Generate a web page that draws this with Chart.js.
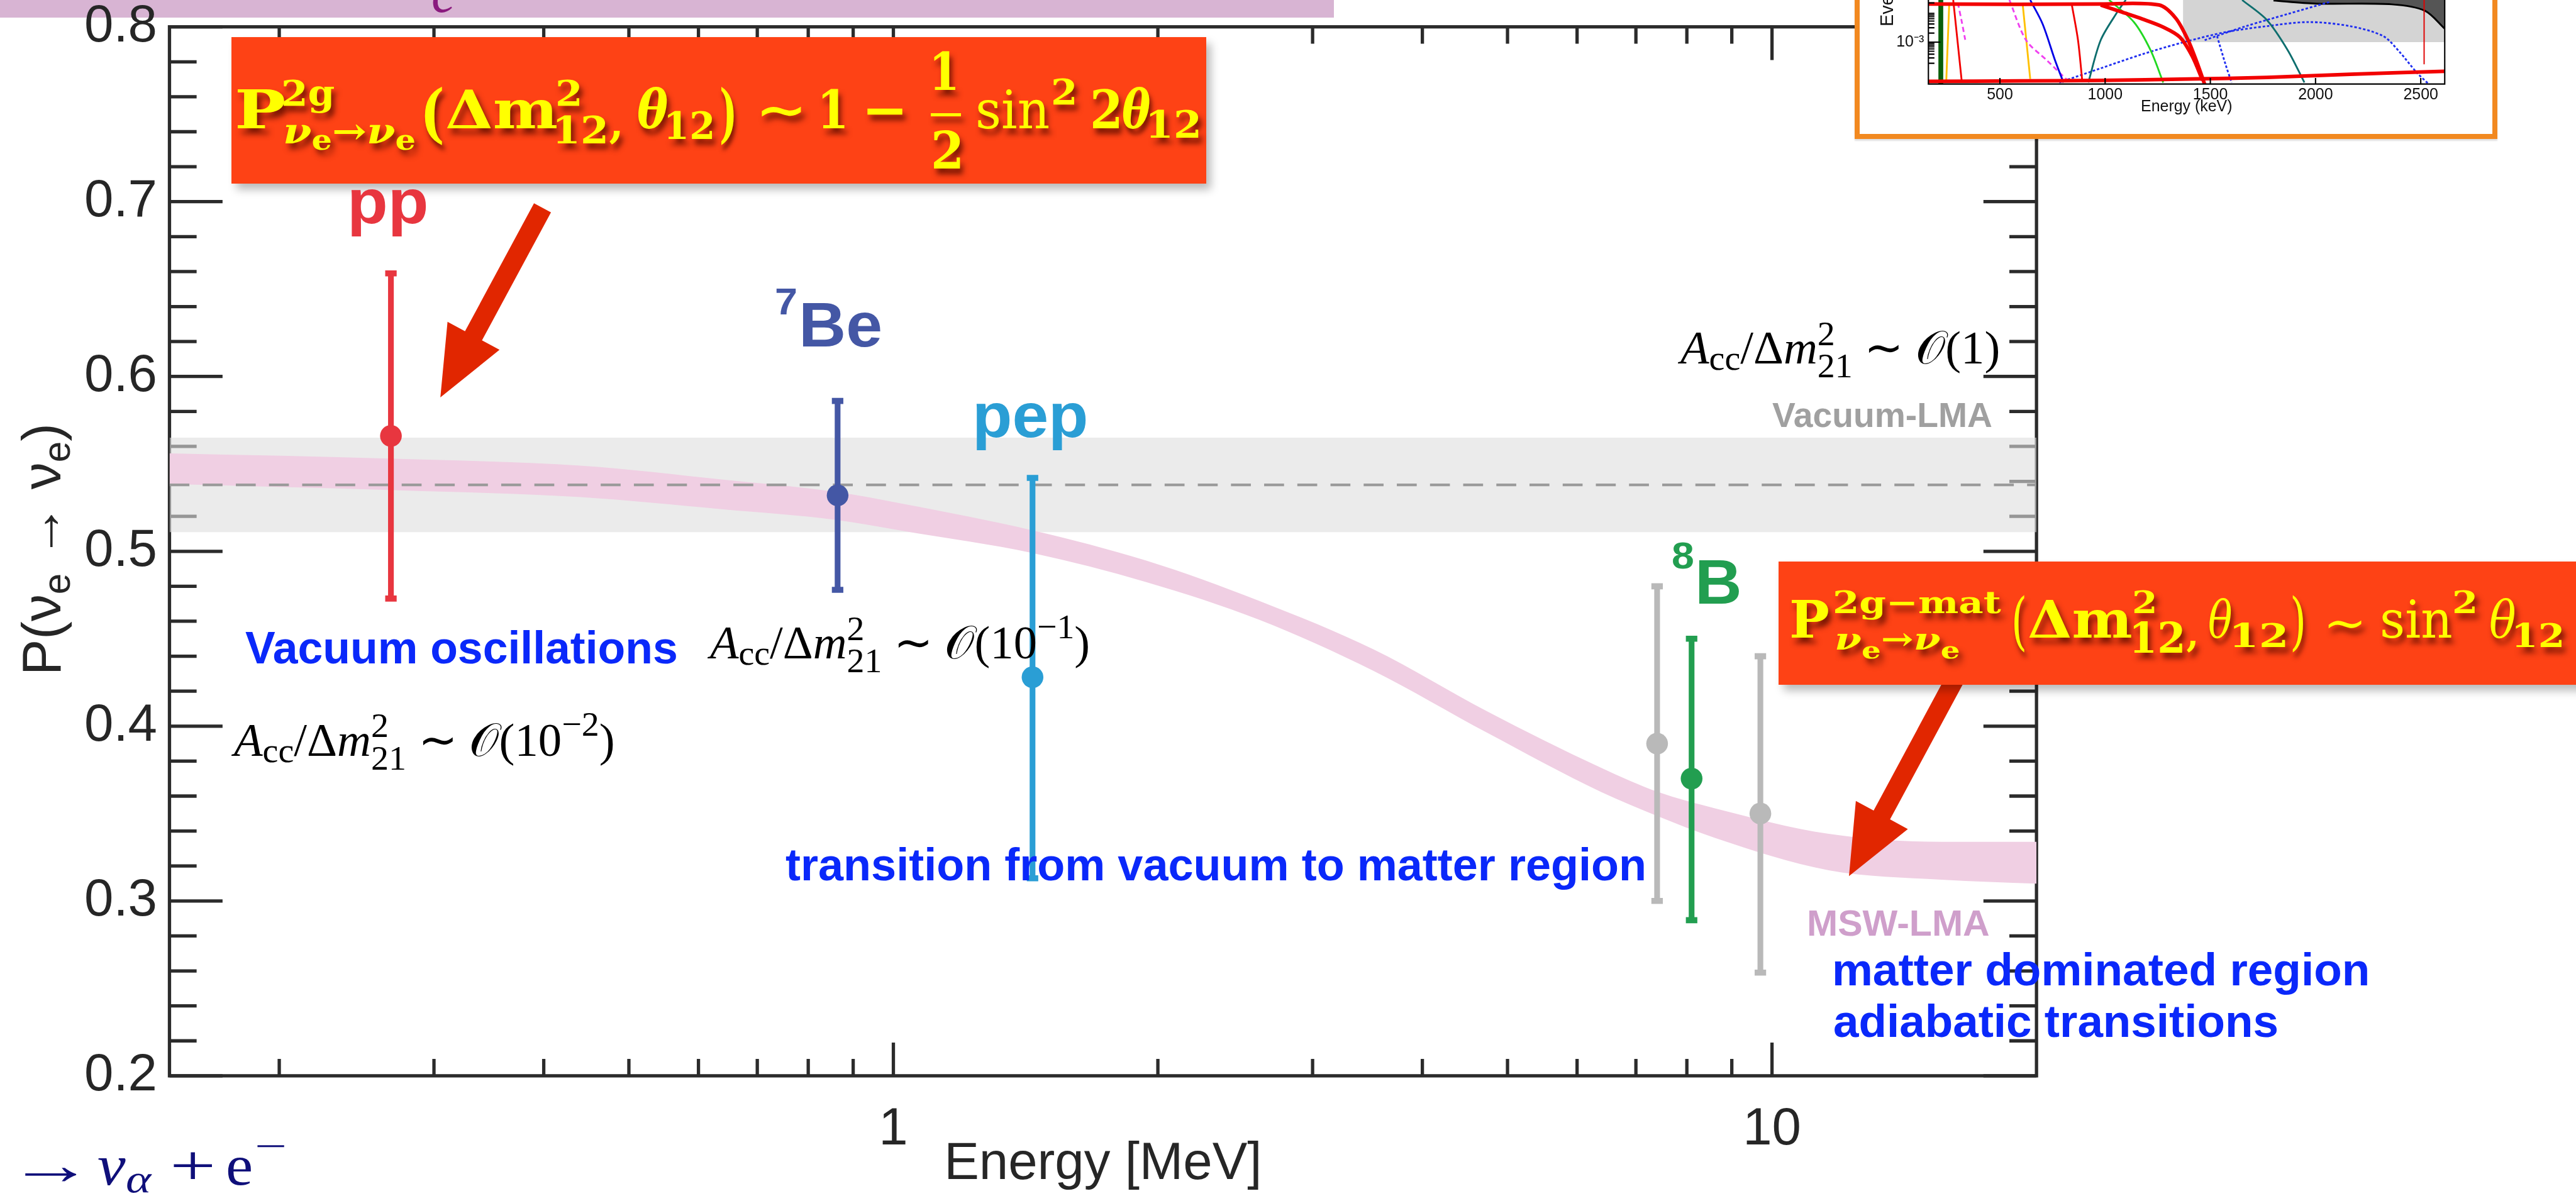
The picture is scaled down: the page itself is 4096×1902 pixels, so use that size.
<!DOCTYPE html>
<html><head><meta charset="utf-8">
<script src="https://cdn.jsdelivr.net/npm/chart.js@4.4.1/dist/chart.umd.min.js"></script>
<style>
html,body{margin:0;padding:0;background:#fff;overflow:hidden;}
#wrap{position:relative;width:4096px;height:1902px;overflow:hidden;background:#fff;}
canvas{position:absolute;left:0;top:0;}
.ov{position:absolute;white-space:nowrap;line-height:1;transform-origin:0 0;margin:0;padding:0;}
.bl{display:inline-block;width:0;height:0;}
.box{position:absolute;box-sizing:border-box;}
</style></head>
<body><div id="wrap">
<div id="pinkbar" class="box"></div>
<canvas id="main" width="4096" height="1902"></canvas>
<svg id="arrows" width="4096" height="1902" style="position:absolute;left:0;top:0"></svg>
<div id="box1" class="box"></div>
<div id="box2" class="box"></div>
<div id="insetBox" class="box"></div>
<canvas id="inset"></canvas>
</div>
<script>
const S = 0.959;
const SANS = "'Liberation Sans', Arial, Helvetica, sans-serif";
const SERIF = "'Liberation Serif', 'Times New Roman', serif";
const MATHB = "'DejaVu Serif', serif";

// ================= DATA =================
const sourceNames  = ['pp', '7Be', 'pep', '8B', '8B other (low E)', '8B other (high E)'];
const sourceEnergy = [0.268, 0.864, 1.44, 8.10, 7.40, 9.70];      // MeV
const sourceProb   = [0.566, 0.532, 0.428, 0.370, 0.390, 0.350];
const sourceLow    = [0.473, 0.478, 0.313, 0.289, 0.300, 0.259];
const sourceHigh   = [0.659, 0.586, 0.542, 0.450, 0.480, 0.440];

const mswEnergy = [0.15, 0.27, 0.44, 0.64, 0.86, 1.03, 1.44, 1.94, 2.61, 3.52, 4.74, 6.39, 7.42, 8.61, 11.6, 15.6, 20];
const mswUpper  = [0.556, 0.553, 0.549, 0.541, 0.534, 0.527, 0.512, 0.4947, 0.4716, 0.4439, 0.4085, 0.3762, 0.3623, 0.3530, 0.3384, 0.3338, 0.3338];
const mswLower  = [0.5385, 0.535, 0.531, 0.524, 0.518, 0.5115, 0.499, 0.4824, 0.4608, 0.4316, 0.3962, 0.3623, 0.3484, 0.3361, 0.3176, 0.3122, 0.3099];

const vacEnergy  = [0.15, 20];
const vacUpper   = [0.565, 0.565];
const vacLower   = [0.511, 0.511];
const vacCentral = [0.538, 0.538];

const xMajorTicks = [1, 10];
const xTickLabels = ['1', '10'];
const xMinorTicks = [0.2, 0.3, 0.4, 0.5, 0.6, 0.7, 0.8, 0.9, 2, 3, 4, 5, 6, 7, 8, 9];
const yMajorTicks = [0.2, 0.3, 0.4, 0.5, 0.6, 0.7, 0.8];
const yTickLabels = ['0.2', '0.3', '0.4', '0.5', '0.6', '0.7', '0.8'];
const yMinorTicks = [0.22, 0.24, 0.26, 0.28, 0.32, 0.34, 0.36, 0.38, 0.42, 0.44, 0.46, 0.48,
                     0.52, 0.54, 0.56, 0.58, 0.62, 0.64, 0.66, 0.68, 0.72, 0.74, 0.76, 0.78];

// inset spectrum (keV, events)
const insetRedTopKeV = [160, 584, 979, 1256, 1335, 1394, 1443, 1473];
const insetRedTop    = [0.0185, 0.0179, 0.0185, 0.0171, 0.0063, 0.00117, 0.00016, 0.00004];
const insetRedDiagKeV = [979, 1078, 1177, 1276, 1355, 1414, 1463];
const insetRedDiag    = [0.0171, 0.0100, 0.00585, 0.00316, 0.00147, 0.00034, 0.000054];
const insetRedLeftKeV = [278, 298, 318];
const insetRedLeft    = [0.025, 0.00117, 0.000054];
const insetRedMidKeV  = [841, 871, 891];
const insetRedMid     = [0.0185, 0.00117, 0.000054];
const insetRedBaseKeV = [160, 600, 979, 1400, 1769, 2164, 2614];
const insetRedBase    = [0.000050, 0.000052, 0.000054, 0.000060, 0.000068, 0.000086, 0.000108];
const insetRedMarkKeV = [2516, 2516];
const insetRedMark    = [0.025, 0.000185];
const insetBlueKeV = [644, 703, 762, 802];
const insetBlue    = [0.025, 0.004, 0.00025, 0.000046];
const insetBlueDotKeV = [782, 979, 1177, 1374, 1572, 1769, 1967, 2164, 2322, 2401, 2480, 2539];
const insetBlueDot    = [0.000046, 0.000136, 0.0004, 0.001, 0.00215, 0.0034, 0.00464, 0.0034, 0.00158, 0.00046, 0.0001, 0.00004];
const insetBlueDot2KeV = [1473, 1670, 1868, 2066];
const insetBlueDot2    = [0.00117, 0.0034, 0.0086, 0.0215];
const insetBlueDot3KeV = [1532, 1572, 1601];
const insetBlueDot3    = [0.00158, 0.000185, 0.000046];
const insetMagentaKeV  = [545, 624, 723, 821];
const insetMagenta     = [0.025, 0.00117, 0.00025, 0.000054];
const insetMagenta2KeV = [300, 318, 335];
const insetMagenta2    = [0.02, 0.005, 0.0012];
const insetGreenKeV = [1019, 1137, 1216, 1276];
const insetGreen    = [0.025, 0.0046, 0.00054, 0.000046];
const insetTealUpKeV = [920, 979, 1058, 1098];
const insetTealUp    = [0.000046, 0.00117, 0.01, 0.025];
const insetTealDownKeV = [1651, 1769, 1868, 1947];
const insetTealDown    = [0.025, 0.0054, 0.00054, 0.000046];
const insetYellowAKeV = [259, 245];
const insetYellowA    = [0.0185, 0.000054];
const insetYellowBKeV = [608, 644];
const insetYellowB    = [0.0185, 0.00006];
const insetDarkGreenKeV = [219, 219];
const insetDarkGreen    = [0.025, 0.000041];
const insetHatchKeV    = [1370, 2614];
const insetHatchTop    = [0.025, 0.025];
const insetHatchBottom = [0.001, 0.001];
const insetBlackKeV    = [1800, 2000, 2362, 2520, 2614];
const insetBlackTop    = [0.025, 0.025, 0.025, 0.025, 0.025];
const insetBlackBottom = [0.024, 0.019, 0.018, 0.011, 0.0028];
const insetXTicks  = [500, 1000, 1500, 2000, 2500];
const insetXLabels = ['500', '1000', '1500', '2000', '2500'];
const insetYMajor  = [0.001];
const insetYLabels = ['10\u207B\u00B3'];
const insetYMinor  = [0.0002,0.0003,0.0004,0.0005,0.0006,0.0007,0.0008,0.0009,0.002,0.003,0.004,0.005,0.006,0.007,0.008,0.009,0.02];

// ================= STYLE =================
const sourceColor = ['#E8363F', '#4457A5', '#2A9ED5', '#229E50', '#B9B9B9', '#B9B9B9'];
const PLOT = {left: 281, right: 3376.6, top: 44.5, bottom: 1784};   // reference px
const W = 4096, H = 1902;

Chart.defaults.font.family = SANS;
const mk = (xs, ys) => xs.map((x, i) => ({x: x, y: ys[i]}));

const frameTicks = {
  id: 'frameTicks',
  beforeDatasetsDraw(chart) {
    const {ctx, chartArea: a, scales: {x, y}} = chart;
    ctx.save();
    ctx.strokeStyle = '#2B2B2B';
    ctx.lineWidth = 5.5 * S;
    ctx.beginPath();
    const yt = (v, len) => { const p = y.getPixelForValue(v); ctx.moveTo(a.left, p); ctx.lineTo(a.left + len, p); ctx.moveTo(a.right, p); ctx.lineTo(a.right - len, p); };
    const xt = (v, len) => { const p = x.getPixelForValue(v); ctx.moveTo(p, a.bottom); ctx.lineTo(p, a.bottom - len); ctx.moveTo(p, a.top); ctx.lineTo(p, a.top + len); };
    yMajorTicks.forEach(v => yt(v, 88 * S));
    yMinorTicks.forEach(v => yt(v, 45 * S));
    xMajorTicks.forEach(v => xt(v, 55 * S));
    xMinorTicks.forEach(v => xt(v, 28 * S));
    ctx.stroke();
    ctx.strokeRect(a.left, a.top, a.right - a.left, a.bottom - a.top);
    ctx.restore();
  }
};

const ds = [];
sourceNames.forEach((n, i) => {
  ds.push({
    label: n, order: i + 1,
    data: [{x: sourceEnergy[i], y: sourceLow[i]}, {x: sourceEnergy[i], y: sourceProb[i]}, {x: sourceEnergy[i], y: sourceHigh[i]}],
    borderColor: sourceColor[i], backgroundColor: sourceColor[i], borderWidth: 9.5 * S,
    pointStyle: ['line', 'circle', 'line'], pointRadius: [9.5 * S, 18 * S, 9.5 * S],
    pointBorderWidth: [10 * S, 0, 10 * S], pointBackgroundColor: sourceColor[i], pointBorderColor: sourceColor[i],
    fill: false, tension: 0
  });
});
ds.push({label: 'Vacuum-LMA central', order: 30, data: mk(vacEnergy, vacCentral), borderColor: '#9B9B9B',
  borderWidth: 4.5 * S, borderDash: [33 * S, 22 * S], pointRadius: 0, fill: false});
ds.push({label: 'MSW-LMA upper', order: 40, data: mk(mswEnergy, mswUpper), borderColor: 'rgba(0,0,0,0)',
  borderWidth: 0, pointRadius: 0, fill: '+1', backgroundColor: '#F0CFE3', cubicInterpolationMode: 'monotone'});
ds.push({label: 'MSW-LMA lower', order: 41, data: mk(mswEnergy, mswLower), borderColor: 'rgba(0,0,0,0)',
  borderWidth: 0, pointRadius: 0, fill: false, cubicInterpolationMode: 'monotone'});
ds.push({label: 'Vacuum-LMA upper', order: 50, data: mk(vacEnergy, vacUpper), borderColor: 'rgba(0,0,0,0)',
  borderWidth: 0, pointRadius: 0, fill: '+1', backgroundColor: 'rgba(222,222,222,0.6)'});
ds.push({label: 'Vacuum-LMA lower', order: 51, data: mk(vacEnergy, vacLower), borderColor: 'rgba(0,0,0,0)',
  borderWidth: 0, pointRadius: 0, fill: false});

const tickFont = {size: 87 * S, lineHeight: 1.2};
new Chart(document.getElementById('main'), {
  type: 'line',
  data: {datasets: ds},
  options: {
    responsive: false, animation: false, devicePixelRatio: 1, events: [],
    layout: {padding: {left: 0, top: PLOT.top * S, right: W - PLOT.right * S, bottom: 0}},
    plugins: {legend: {display: false}, tooltip: {enabled: false}},
    scales: {
      x: {
        type: 'logarithmic', min: 0.15, max: 20, position: 'bottom',
        grid: {display: false, drawTicks: false}, border: {display: false},
        afterBuildTicks: s => { s.ticks = xMajorTicks.map(v => ({value: v})); },
        afterFit: s => { s.height = H - PLOT.bottom * S; s.paddingLeft = 0; s.paddingRight = 0; },
        ticks: {callback: (v, i) => xTickLabels[i], font: tickFont, color: '#262626', padding: 36, maxRotation: 0, autoSkip: false},
        title: {display: true, text: 'Energy [MeV]', font: tickFont, color: '#262626', padding: {top: 0, bottom: 0}}
      },
      y: {
        type: 'linear', min: 0.2, max: 0.8, position: 'left',
        grid: {display: false, drawTicks: false}, border: {display: false},
        afterBuildTicks: s => { s.ticks = yMajorTicks.map(v => ({value: v})); },
        afterFit: s => { s.width = PLOT.left * S; s.paddingTop = 0; s.paddingBottom = 0; },
        ticks: {callback: (v, i) => yTickLabels[i], font: {size: 87 * S, lineHeight: 0.8}, color: '#262626', padding: 19.5, autoSkip: false}
      }
    }
  },
  plugins: [frameTicks]
});

// ================= boxes & arrows =================
const wrap = document.getElementById('wrap');
function boxStyle(id, x, y, w, h, css) {
  const el = document.getElementById(id);
  el.style.left = (x * S) + 'px'; el.style.top = (y * S) + 'px';
  el.style.width = (w * S) + 'px'; el.style.height = (h * S) + 'px';
  Object.assign(el.style, css);
}
boxStyle('pinkbar', 0, 0, 2212, 29.3, {background: '#D8B4D3'});
boxStyle('box1', 384, 62, 1616, 242, {background: '#FE4215', boxShadow: `${8 * S}px ${10 * S}px ${14 * S}px rgba(0,0,0,0.28)`});
boxStyle('box2', 2949, 931, 1400, 205, {background: '#FE4215', boxShadow: `${8 * S}px ${10 * S}px ${14 * S}px rgba(0,0,0,0.28)`});
boxStyle('insetBox', 3075.5, -30, 1065.5, 260, {background: '#fff', border: `${9 * S}px solid #F28920`, boxShadow: `0 ${3 * S}px ${2 * S}px rgba(0,0,0,0.12)`});

function arrowPoints(t, p, sw, hl, hw) {
  const dx = p[0] - t[0], dy = p[1] - t[1], L = Math.hypot(dx, dy), ux = dx / L, uy = dy / L, nx = -uy, ny = ux;
  const bx = p[0] - ux * hl, by = p[1] - uy * hl;
  const pts = [[t[0] + nx * sw / 2, t[1] + ny * sw / 2], [bx + nx * sw / 2, by + ny * sw / 2], [bx + nx * hw, by + ny * hw], p,
               [bx - nx * hw, by - ny * hw], [bx - nx * sw / 2, by - ny * sw / 2], [t[0] - nx * sw / 2, t[1] - ny * sw / 2]];
  return pts.map(q => (q[0] * S).toFixed(1) + ',' + (q[1] * S).toFixed(1)).join(' ');
}
document.getElementById('arrows').innerHTML =
  `<polygon fill="#E12600" points="${arrowPoints([899.5, 344.6], [730.1, 659], 32, 116, 49)}"/>` +
  `<polygon fill="#E12600" points="${arrowPoints([3242, 1125], [3065.7, 1452.8], 31, 115, 49)}"/>`;

// ================= inset spectrum =================
const IW = 1004, IH = 212;
const ic = document.getElementById('inset');
ic.width = IW; ic.height = IH;
ic.style.left = (3084.5 * S) + 'px'; ic.style.top = '0px';
const insetFrame = {
  id: 'insetFrame',
  afterDatasetsDraw(chart) {
    const {ctx, chartArea: a, scales: {x, y}} = chart;
    ctx.save();
    ctx.strokeStyle = '#000'; ctx.lineWidth = 2.2 * S;
    ctx.beginPath();
    ctx.moveTo(a.left, a.top - 5); ctx.lineTo(a.left, a.bottom); ctx.lineTo(a.right, a.bottom); ctx.lineTo(a.right, a.top - 5);
    insetYMajor.forEach(v => { const p = y.getPixelForValue(v); ctx.moveTo(a.left, p); ctx.lineTo(a.left + 20 * S, p); });
    insetYMinor.forEach(v => { const p = y.getPixelForValue(v); ctx.moveTo(a.left, p); ctx.lineTo(a.left + 10 * S, p); });
    insetXTicks.forEach(v => { const p = x.getPixelForValue(v); ctx.moveTo(p, a.bottom); ctx.lineTo(p, a.bottom - 10 * S); });
    ctx.stroke();
    ctx.restore();
  }
};
const il = (xs, ys, color, width, extra) => Object.assign({data: mk(xs, ys), borderColor: color, borderWidth: width * S, pointRadius: 0, fill: false, tension: 0.3}, extra || {});
const insetDs = [
  il(insetRedBaseKeV, insetRedBase, '#F20000', 6, {order: 1}),
  il(insetRedTopKeV, insetRedTop, '#F20000', 6, {order: 2}),
  il(insetRedDiagKeV, insetRedDiag, '#F20000', 6, {order: 3}),
  il(insetRedMarkKeV, insetRedMark, '#E00000', 2, {order: 4}),
  il(insetRedLeftKeV, insetRedLeft, '#F20000', 3, {order: 5}),
  il(insetRedMidKeV, insetRedMid, '#F20000', 3, {order: 6}),
  il(insetGreenKeV, insetGreen, '#22D822', 3, {order: 7}),
  il(insetTealUpKeV, insetTealUp, '#0E6E6E', 3, {order: 8}),
  il(insetTealDownKeV, insetTealDown, '#0E6E6E', 3, {order: 9}),
  il(insetBlueKeV, insetBlue, '#0000E6', 3, {order: 10}),
  il(insetBlueDotKeV, insetBlueDot, '#1F2EF0', 3, {order: 11, borderDash: [4, 3]}),
  il(insetBlueDot2KeV, insetBlueDot2, '#1F2EF0', 3, {order: 12, borderDash: [4, 3]}),
  il(insetBlueDot3KeV, insetBlueDot3, '#1F2EF0', 3, {order: 13, borderDash: [4, 3]}),
  il(insetMagentaKeV, insetMagenta, '#F040F0', 3, {order: 14, borderDash: [8, 5]}),
  il(insetMagenta2KeV, insetMagenta2, '#F040F0', 3, {order: 15, borderDash: [8, 5]}),
  il(insetYellowAKeV, insetYellowA, '#FFC000', 3, {order: 16, tension: 0}),
  il(insetYellowBKeV, insetYellowB, '#FFC000', 3, {order: 17, tension: 0}),
  il(insetDarkGreenKeV, insetDarkGreen, '#0B5E0B', 8, {order: 18, tension: 0}),
];
insetDs.push(il(insetBlackKeV, insetBlackTop, 'rgba(0,0,0,0)', 0, {order: 30, fill: '+1', backgroundColor: 'rgba(0,0,0,0.6)', tension: 0}));
insetDs.push(il(insetBlackKeV, insetBlackBottom, '#000', 3, {order: 31, tension: 0.3}));
insetDs.push(il(insetHatchKeV, insetHatchTop, 'rgba(0,0,0,0)', 0, {order: 40, fill: '+1', backgroundColor: 'rgba(0,0,0,0.17)', tension: 0}));
insetDs.push(il(insetHatchKeV, insetHatchBottom, 'rgba(0,0,0,0)', 0, {order: 41, tension: 0}));
const iFont = {size: 26 * S, lineHeight: 1.2};
new Chart(ic, {
  type: 'line',
  data: {datasets: insetDs},
  options: {
    responsive: false, animation: false, devicePixelRatio: 1, events: [],
    layout: {padding: {left: 0, top: 0, right: IW - (4053.5 - 3084.5) * S, bottom: 0}},
    plugins: {legend: {display: false}, tooltip: {enabled: false}},
    scales: {
      x: {
        type: 'linear', min: 160, max: 2614,
        grid: {display: false, drawTicks: false}, border: {display: false},
        afterBuildTicks: s => { s.ticks = insetXTicks.map(v => ({value: v})); },
        afterFit: s => { s.height = IH - 139.3 * S; s.paddingLeft = 0; s.paddingRight = 0; },
        ticks: {callback: (v, i) => insetXLabels[i], font: iFont, color: '#111', padding: 3, maxRotation: 0, autoSkip: false},
        title: {display: true, text: 'Energy (keV)', font: iFont, color: '#111', padding: {top: 0, bottom: 27}}
      },
      y: {
        type: 'logarithmic', min: 0.000041, max: 0.025,
        grid: {display: false, drawTicks: false}, border: {display: false},
        afterBuildTicks: s => { s.ticks = insetYMajor.map(v => ({value: v})); },
        afterFit: s => { s.width = (3197.4 - 3084.5) * S; s.paddingTop = 0; s.paddingBottom = 0; },
        ticks: {callback: (v, i) => insetYLabels[i], font: {size: 26 * S, lineHeight: 0.8}, color: '#111', padding: 7, autoSkip: false}
      }
    }
  },
  plugins: [insetFrame]
});

// ================= text overlays =================
const mctx = document.createElement('canvas').getContext('2d');
function put(html, o) {
  const d = document.createElement('div');
  d.className = 'ov';
  const fam = o.family || SANS, wt = o.weight || 'normal', st = o.style || 'normal', sz = o.size * S;
  d.style.fontFamily = fam; d.style.fontSize = sz + 'px'; d.style.fontWeight = wt; d.style.fontStyle = st;
  d.style.color = o.color || '#000';
  if (o.shadow) d.style.textShadow = o.shadow;
  d.innerHTML = '<span class="c">' + html + '</span><span class="bl"></span>';
  d.style.left = '0px'; d.style.top = '0px';
  wrap.appendChild(d);
  const dr = d.getBoundingClientRect();
  const cw = d.querySelector('.c').getBoundingClientRect().width;
  const b = d.querySelector('.bl').getBoundingClientRect().top - dr.top;
  let inkL = 0, inkW = cw;
  if (o.plain) {
    mctx.font = `${st} ${wt} ${sz}px ${fam}`;
    const m = mctx.measureText(d.querySelector('.c').textContent);
    inkL = -m.actualBoundingBoxLeft; inkW = m.actualBoundingBoxLeft + m.actualBoundingBoxRight;
  }
  const k = o.w ? (o.w * S) / inkW : 1;
  if (o.rot) {
    const y0 = (o.cy !== undefined) ? (o.cy * S + k * cw / 2) : o.y0 * S;
    d.style.left = (o.x * S - b) + 'px'; d.style.top = y0 + 'px';
    d.style.transform = `rotate(-90deg) scaleX(${k})`;
  } else {
    d.style.left = (o.x * S - inkL * k) + 'px';
    d.style.top = (o.base * S - b) + 'px';
    d.style.transform = `scaleX(${k})`;
  }
  return d;
}

// top-left cut glyph on the pink bar
put('e', {x: 717, base: 20, size: 100, family: SERIF, style: 'italic', color: '#8A1A7E', plain: true, w: 36});

// axis title (y)
put(`P(ν<span style="font-size:0.7em;vertical-align:${-16 * S}px">e</span> → ν<span style="font-size:0.7em;vertical-align:${-16 * S}px">e</span>)`,
    {x: 100, cy: 911, size: 91, color: '#262626', rot: true, w: 418});

// source labels
const labelSpecs = [
  ['pp', 582, 370, 124, 104, '#E8363F'],
  ['7', 1286.7, 521, 33, 62, '#4457A5'],
  ['Be', 1330.6, 575, 129.6, 104, '#4457A5'],
  ['pep', 1618.4, 725, 181.6, 104, '#2A9ED5'],
  ['8', 2772.6, 943, 35, 62, '#229E50'],
  ['B', 2816.3, 1001, 67, 104, '#229E50'],
  ['Vacuum oscillations', 406.7, 1100, 715, 75, '#0A28FA'],
  ['transition from vacuum to matter region', 1302, 1460, 1423.5, 75, '#0A28FA'],
  ['matter dominated region', 3041.6, 1634.5, 883.5, 75, '#0A28FA'],
  ['adiabatic transitions', 3041.6, 1720, 734, 75, '#0A28FA'],
  ['Vacuum-LMA', 2938.9, 708.2, 364.4, 57, '#A0A0A0'],
  ['MSW-LMA', 2998.8, 1552, 299, 59, '#CF9FCB'],
];
labelSpecs.forEach(l => put(l[0], {x: l[1], base: l[2], w: l[3], size: l[4], color: l[5], weight: 'bold', plain: true}));

// A_cc / Δm^2_21 ~ O(...) labels
function accHTML(tail) {
  const f = 77 * S;
  return `<i>A</i><span style="font-size:${0.75 * f}px;vertical-align:${-10 * S}px">cc</span>/Δ<i>m</i>` +
    `<span style="display:inline-flex;flex-direction:column;font-size:${0.75 * f}px;line-height:${54 * S}px;vertical-align:${31 * S}px"><span>2</span><span>21</span></span>` +
    ` ∼ 𝒪(${tail}`;
}
const supm = t => `<span style="font-size:${0.75 * 77 * S}px;vertical-align:${33 * S}px">${t}</span>`;
put(accHTML('10' + supm('−2') + ')'), {x: 387.5, base: 1253, w: 631.5, size: 77, family: SERIF, color: '#000'});
put(accHTML('10' + supm('−1') + ')'), {x: 1177, base: 1092, w: 630, size: 77, family: SERIF, color: '#000'});
put(accHTML('1)'), {x: 2786.5, base: 603, w: 530, size: 77, family: SERIF, color: '#000'});

// formula boxes
const SH = `${5 * S}px ${9 * S}px ${9 * S}px rgba(100,15,0,0.85)`;
const F1 = [
  ['P', 393, 213, 79, 88], ['2g', 469, 175, 85, 59], ['(', 704, 224, 29, 105], ['Δm', 741, 213, 183, 88],
  ['2', 924, 175, 37, 59], ['12', 924, 238, 81, 62], [',', 1010, 228, null, 70], ['θ', 1056, 213, 51, 88, 'italic'],
  ['12', 1107, 230, 74, 62], [')', 1196, 224, 21, 105], ['∼', 1262, 213, 66, 88], ['1', 1364, 213, 37, 88],
  ['−', 1437, 213, 59, 88], ['1', 1548, 149, 36, 85], ['2', 1548, 279, 44, 85], ['sin', 1621, 213, 117, 88, 'normal', 'normal'],
  ['2', 1746, 173, 36, 59], ['2', 1812, 213, 44, 88], ['θ', 1860, 213, 47, 88, 'italic'], ['12', 1907, 228, 81, 62],
];
const F2 = [
  ['P', 2969.7, 1057, 62, 85], ['2g−mat', 3042, 1017, 276, 51], ['(', 3339, 1066, 17, 103, 'normal', 'normal'], ['Δm', 3364, 1057, 170, 85],
  ['2', 3538.5, 1017, 33.5, 51], ['12', 3538, 1082, 81, 71], [',', 3625, 1072, null, 60], ['θ', 3661.6, 1057, 38.4, 85, 'italic', 'normal'],
  ['12', 3704, 1073, 85, 55], [')', 3801.6, 1066, 17, 103, 'normal', 'normal'], ['∼', 3861, 1060, 55, 80, 'normal', 'normal'],
  ['sin', 3950, 1057, 115, 85, 'normal', 'normal'], ['2', 4069, 1017, 34, 51], ['θ', 4128.5, 1057, 42.5, 85, 'italic', 'normal'], ['12', 4171, 1073, 76, 55],
];
[F1, F2].forEach(F => F.forEach(p => put(p[0], {x: p[1], base: p[2], w: p[3], size: p[4], style: p[5] || 'normal', weight: p[6] || 'bold',
  family: MATHB, color: '#FFFF00', shadow: SH, plain: true})));
const subE = (off) => `<span style="font-size:0.78em;vertical-align:${-off * S}px">e</span>`;
put(`<i>ν</i>${subE(10)}→<i>ν</i>${subE(10)}`, {x: 469, base: 238, w: 220, size: 59, family: MATHB, weight: 'bold', color: '#FFFF00', shadow: SH});
put(`<i>ν</i>${subE(15)}→<i>ν</i>${subE(15)}`, {x: 3042, base: 1077, w: 208, size: 51, family: MATHB, weight: 'bold', color: '#FFFF00', shadow: SH});
const bar = document.createElement('div');
Object.assign(bar.style, {position: 'absolute', left: (1543 * S) + 'px', top: (187.5 * S) + 'px', width: (50 * S) + 'px', height: (5 * S) + 'px',
  background: '#FFFF00', boxShadow: SH.replace(/ rgba/, ' 0 rgba')});
wrap.appendChild(bar);

// inset y title (cut by the top edge)
put('Events / (10 keV)', {x: 3139, y0: 44, size: 30, color: '#111', rot: true});

// bottom-left reaction fragment
const NAVY = '#0F0F7A';
put('→', {x: 41, base: 1964, w: 86, size: 95, family: SERIF, color: NAVY, plain: true});
put('ν', {x: 162.6, base: 1965, w: 46, size: 95, family: SERIF, style: 'italic', color: NAVY, plain: true});
put('α', {x: 209.7, base: 1977, w: 43, size: 66, family: SERIF, style: 'italic', color: NAVY, plain: true});
put('+', {x: 287, base: 1965, w: 64, size: 95, family: SERIF, color: NAVY, plain: true});
put('e', {x: 378, base: 1965, w: 39, size: 95, family: SERIF, color: NAVY, plain: true});
put('−', {x: 426.7, base: 1923, w: 45, size: 66, family: SERIF, color: NAVY, plain: true});
</script></body></html>
